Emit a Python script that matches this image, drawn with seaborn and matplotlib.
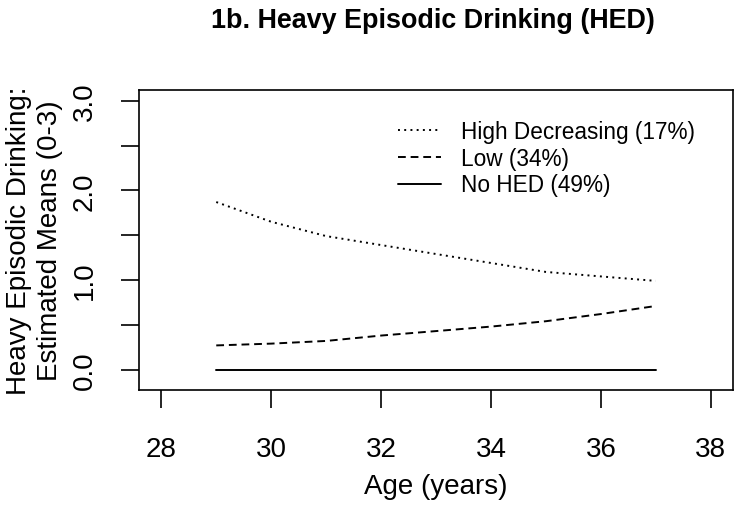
import matplotlib
matplotlib.use('Agg')
import matplotlib.pyplot as plt
import seaborn as sns
import pandas as pd

### R base-graphics look
sns.set_theme(style='ticks')
plt.rcParams['font.family'] = ['Liberation Sans', 'DejaVu Sans']
plt.rcParams['text.color'] = 'black'
plt.rcParams['axes.labelcolor'] = 'black'
plt.rcParams['xtick.color'] = 'black'
plt.rcParams['ytick.color'] = 'black'

### data
ages = [29, 30, 31, 32, 33, 34, 35, 36, 37]
high_decreasing = [1.87, 1.65, 1.49, 1.39, 1.29, 1.19, 1.09, 1.04, 0.99]
low = [0.27, 0.29, 0.32, 0.38, 0.43, 0.48, 0.54, 0.62, 0.71]
no_hed = [0, 0, 0, 0, 0, 0, 0, 0, 0]
group_names = ['High Decreasing (17%)', 'Low (34%)', 'No HED (49%)']
x_ticks = [28, 30, 32, 34, 36, 38]
y_ticks = [0.0, 0.5, 1.0, 1.5, 2.0, 2.5, 3.0]
y_ticklabels = ['0.0', '', '1.0', '', '2.0', '', '3.0']

# long format for seaborn
rows = []
for name, vals in zip(group_names, [high_decreasing, low, no_hed]):
    for a, v in zip(ages, vals):
        rows.append([a, v, name])
df = pd.DataFrame(rows, columns=['age', 'mean', 'group'])

fig = plt.figure(figsize=(7.38, 5.06), dpi=100)
ax = fig.add_axes([0.1888, 0.2279, 0.8040, 0.5929])

line_dashes = {group_names[0]: (1, 2.2), group_names[1]: (4, 2.5), group_names[2]: ''}
sns.lineplot(data=df, x='age', y='mean', style='group', style_order=group_names,
             dashes=line_dashes, color='black', linewidth=1.4, ax=ax)

ax.set_xlim(27.6, 38.4)
ax.set_ylim(-0.224, 3.124)
ax.set_xticks(x_ticks)
ax.set_yticks(y_ticks)
ax.set_yticklabels(y_ticklabels, rotation=90, va='center')
ax.tick_params(axis='both', labelsize=20, length=13, width=1.2, color='black',
               direction='out', pad=20)
ax.tick_params(axis='y', pad=17)

for s in ax.spines.values():
    s.set_linewidth(1.2)
    s.set_color('black')

ax.set_xlabel('Age (years)', fontsize=20, labelpad=8)
ax.set_ylabel('Heavy Episodic Drinking:\nEstimated Means (0-3)', fontsize=20, labelpad=6,
              linespacing=1.28)

fig.suptitle('1b. Heavy Episodic Drinking (HED)', fontsize=19.4, fontweight='bold',
             x=0.587, y=0.959, va='center')

handles, labels = ax.get_legend_handles_labels()
ax.legend(handles, labels, loc='upper left', bbox_to_anchor=(0.42, 0.93), frameon=False,
          fontsize=16.3, handlelength=1.9, handletextpad=0.9, labelspacing=0.17,
          borderaxespad=0)

fig.savefig('out.png', dpi=100)
